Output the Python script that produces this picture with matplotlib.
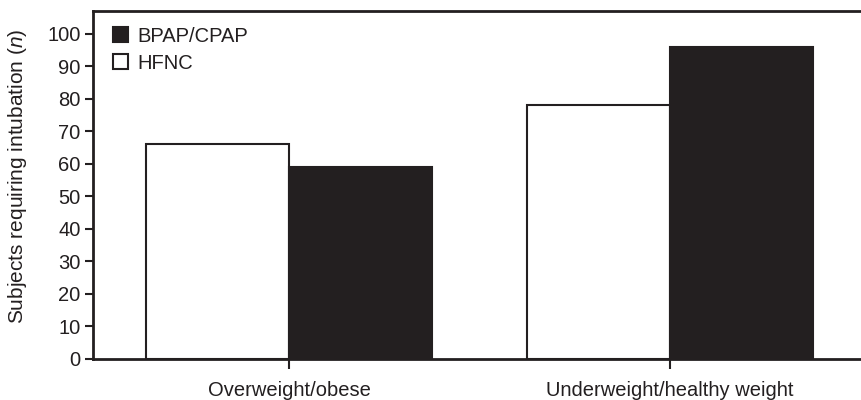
import matplotlib
matplotlib.use("Agg")
import matplotlib.pyplot as plt
import numpy as np
from matplotlib.patches import Patch

categories = ["Overweight/obese", "Underweight/healthy weight"]
hfnc = [66, 78]
bpap = [59, 96]
yticks = [0, 10, 20, 30, 40, 50, 60, 70, 80, 90, 100]

plt.rcParams['font.family'] = ['Liberation Sans', 'DejaVu Sans']
plt.rcParams['mathtext.fontset'] = 'custom'
plt.rcParams['mathtext.it'] = 'Liberation Sans:italic'
plt.rcParams['mathtext.rm'] = 'Liberation Sans'

dark = '#231f20'
fig = plt.figure(figsize=(8.62, 4.0), dpi=100)
ax = fig.add_axes([0.108, 0.1025, 0.892, 0.870])

x = np.arange(len(categories))
w = 0.375
ax.bar(x - w/2, hfnc, width=w, color='white', edgecolor=dark, linewidth=1.5, label='HFNC')
ax.bar(x + w/2, bpap, width=w, color=dark, edgecolor=dark, linewidth=1.5, label='BPAP/CPAP')

ax.set_xlim(-0.514, 1.504)
ax.set_ylim(0, 107)
ax.set_yticks(yticks)
ax.set_xticks(x)
ax.set_xticklabels(categories)
ax.tick_params(axis='y', direction='out', length=6, width=1.5, color=dark, labelsize=14.5, labelcolor=dark, pad=3)
ax.tick_params(axis='x', direction='out', length=7, width=1.5, color=dark, labelsize=14.5, labelcolor=dark, pad=9)
for s in ['left', 'bottom', 'top']:
    ax.spines[s].set_linewidth(2)
    ax.spines[s].set_color(dark)
ax.spines['right'].set_visible(False)
ax.set_ylabel('Subjects requiring intubation ($\\it{n}$)', fontsize=15, color=dark)
ax.yaxis.set_label_coords(-0.084, 0.526)

handles = [Patch(facecolor=dark, edgecolor=dark, linewidth=1.5, label='BPAP/CPAP'),
           Patch(facecolor='white', edgecolor=dark, linewidth=1.5, label='HFNC')]
ax.legend(handles=handles, loc='upper left', frameon=False, fontsize=14.5,
          handlelength=0.75, handleheight=0.75, handletextpad=0.45, labelspacing=0.4,
          borderaxespad=0.2, bbox_to_anchor=(0.01, 0.99), labelcolor=dark)

fig.savefig('out.png', dpi=100)
